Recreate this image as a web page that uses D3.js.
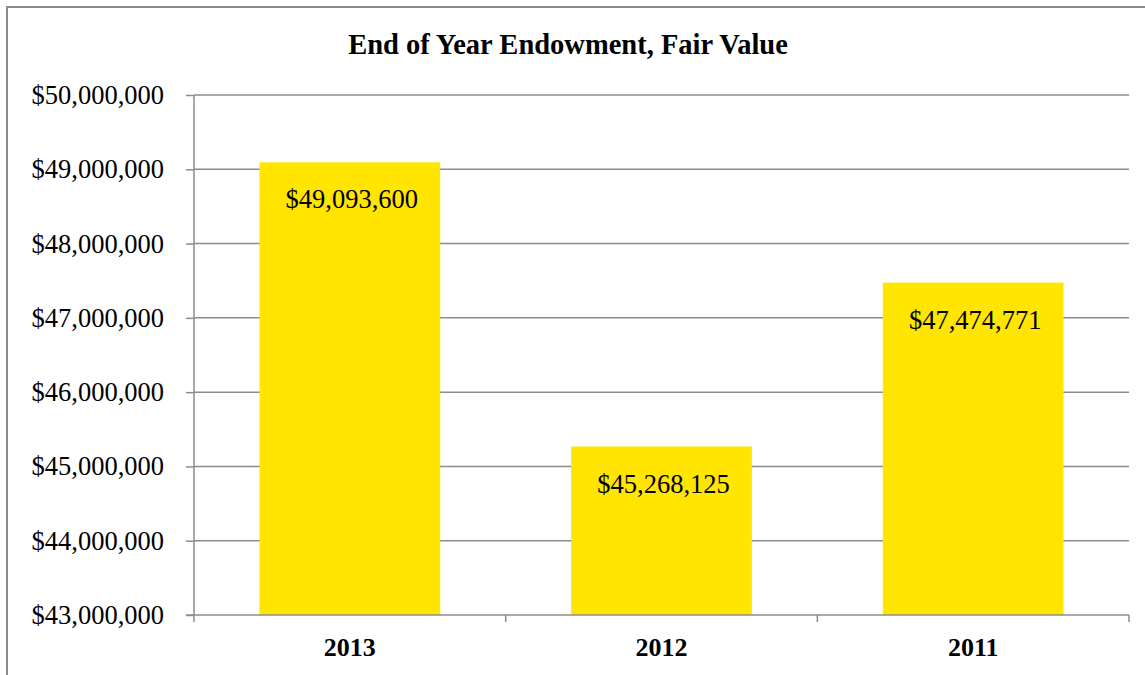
<!DOCTYPE html>
<html>
<head>
<meta charset="utf-8">
<script src="https://d3js.org/d3.v7.min.js"></script>
<style>
  html, body { margin: 0; padding: 0; background: #fff; }
  svg { display: block; }
  text { font-family: "Liberation Serif", "Times New Roman", serif; fill: #000; }
</style>
</head>
<body>
<svg id="chart" width="1145" height="675"></svg>
<script>
// Fiscal years and end-of-year endowment fair values
const years = ["2013", "2012", "2011"];
const values = [49093600, 45268125, 47474771];
const yTicks = [43000000, 44000000, 45000000, 46000000, 47000000, 48000000, 49000000, 50000000];
const chartTitle = "End of Year Endowment, Fair Value";

const W = 1145, H = 675;
const margin = { left: 194, right: 16, top: 95, bottom: 60 };
const svg = d3.select("#chart");

const fmt = v => "$" + d3.format(",")(v);

const x = d3.scaleBand()
  .domain(years)
  .range([margin.left, W - margin.right])
  .paddingInner(0.42)
  .paddingOuter(0.21);

const y = d3.scaleLinear()
  .domain([43000000, 50000000])
  .range([H - margin.bottom, margin.top]);

// outer frame
svg.append("rect")
  .attr("x", 7).attr("y", 7)
  .attr("width", W + 20).attr("height", H + 20)
  .attr("fill", "#fff")
  .attr("stroke", "#8c8c8c")
  .attr("stroke-width", 2);

// title
svg.append("text")
  .attr("x", 568).attr("y", 54)
  .attr("text-anchor", "middle")
  .attr("font-size", 28.5)
  .attr("font-weight", "bold")
  .text(chartTitle);

// horizontal gridlines
svg.append("g")
  .selectAll("line")
  .data(yTicks.slice(1))
  .join("line")
  .attr("x1", margin.left).attr("x2", W - margin.right)
  .attr("y1", d => y(d)).attr("y2", d => y(d))
  .attr("stroke", "#8c8c8c")
  .attr("stroke-width", 1.5);

// bars
svg.append("g")
  .selectAll("rect")
  .data(years)
  .join("rect")
  .attr("x", d => x(d))
  .attr("width", x.bandwidth())
  .attr("y", (d, i) => y(values[i]))
  .attr("height", (d, i) => y(43000000) - y(values[i]))
  .attr("fill", "#ffe500");

// value labels inside bars
svg.append("g")
  .selectAll("text")
  .data(years)
  .join("text")
  .attr("x", d => x(d) + x.bandwidth() / 2 + 2)
  .attr("y", (d, i) => y(values[i]) + 46)
  .attr("text-anchor", "middle")
  .attr("font-size", 26.5)
  .text((d, i) => fmt(values[i]));

// y axis
const yAxis = svg.append("g")
  .attr("transform", `translate(${margin.left},0)`)
  .call(d3.axisLeft(y).tickValues(yTicks).tickFormat(fmt).tickSize(8).tickPadding(22));
yAxis.selectAll("path, line").attr("stroke", "#8c8c8c").attr("stroke-width", 1.5);
yAxis.select(".domain").attr("d", `M0,${y(50000000)}V${y(43000000)}`);
yAxis.selectAll("text")
  .attr("font-size", 26.5)
  .attr("fill", "#000");

// x axis with boundary ticks between categories
const xg = svg.append("g").attr("transform", `translate(0,${y(43000000)})`);
xg.append("line")
  .attr("x1", margin.left - 8).attr("x2", W - margin.right)
  .attr("stroke", "#8c8c8c").attr("stroke-width", 1.5);
const bounds = d3.range(years.length + 1).map(i => margin.left + i * (W - margin.right - margin.left) / years.length);
xg.selectAll(".bt")
  .data(bounds)
  .join("line")
  .attr("class", "bt")
  .attr("x1", d => d).attr("x2", d => d)
  .attr("y1", 0).attr("y2", 7)
  .attr("stroke", "#8c8c8c").attr("stroke-width", 1.5);
xg.selectAll("text")
  .data(years)
  .join("text")
  .attr("x", d => x(d) + x.bandwidth() / 2)
  .attr("y", 41)
  .attr("text-anchor", "middle")
  .attr("font-size", 26)
  .attr("font-weight", "bold")
  .text(d => d);
</script>
</body>
</html>
